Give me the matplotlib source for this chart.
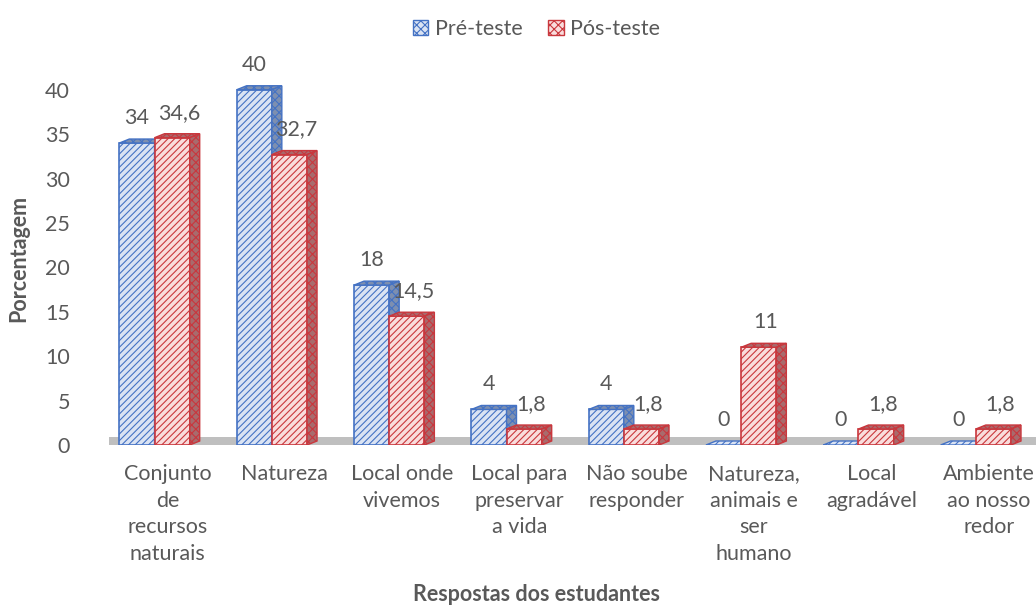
import matplotlib.pyplot as plt
from matplotlib.patches import Patch, Polygon

plt.rcParams["font.family"] = ["Lato", "DejaVu Sans"]
plt.rcParams["hatch.linewidth"] = 0.8

categorias = ["Conjunto\nde\nrecursos\nnaturais", "Natureza", "Local onde\nvivemos",
              "Local para\npreservar\na vida", "Não soube\nresponder",
              "Natureza,\nanimais e\nser\nhumano", "Local\nagradável", "Ambiente\nao nosso\nredor"]
pre_teste = [34, 40, 18, 4, 4, 0, 0, 0]
pos_teste = [34.6, 32.7, 14.5, 1.8, 1.8, 11, 1.8, 1.8]
rotulos_pre = ["34", "40", "18", "4", "4", "0", "0", "0"]
rotulos_pos = ["34,6", "32,7", "14,5", "1,8", "1,8", "11", "1,8", "1,8"]

cinza = "#595959"
azul, azul_claro, azul_lado = "#4472c4", "#dae3f3", "#7d8fb0"
verm, verm_claro, verm_lado = "#c9373d", "#f9dcdc", "#a86b6d"
fs = 15.5

fig = plt.figure(figsize=(10.36, 6.1), dpi=100)
ax = fig.add_axes([0.105, 0.2705, 0.906, 0.6115])

w = 0.30
dx, dy = 0.085, 0.45


def barra_3d(x, v, cor, claro, lado, z):
    ax.bar(x, v, width=w, color=claro, edgecolor=cor, hatch="/////", linewidth=1.2, zorder=z)
    top = [(x - w / 2, v), (x + w / 2, v), (x + w / 2 + dx, v + dy), (x - w / 2 + dx, v + dy)]
    ax.add_patch(Polygon(top, closed=True, facecolor=lado if v > 0 else claro,
                         edgecolor=cor, hatch="xxxx" if v > 0 else "/////", lw=1.0, zorder=z))
    if v > 0:
        side = [(x + w / 2, 0), (x + w / 2 + dx, dy), (x + w / 2 + dx, v + dy), (x + w / 2, v)]
        ax.add_patch(Polygon(side, closed=True, facecolor=lado, edgecolor=cor,
                             hatch="xxxx", lw=1.0, zorder=z))


# piso cinza
ax.axhspan(0, 0.9, xmin=0.0, xmax=1.0, color="#bfbfbf", zorder=0.5, lw=0)

for i in range(len(categorias)):
    xb = i - 0.26
    xr = i + 0.04
    barra_3d(xb, pre_teste[i], azul, azul_claro, azul_lado, 2)
    barra_3d(xr, pos_teste[i], verm, verm_claro, verm_lado, 3)
    ax.annotate(rotulos_pre[i], (xb, pre_teste[i]), xytext=(0, 18), textcoords="offset points",
                ha="center", va="center", fontsize=fs, color=cinza)
    ax.annotate(rotulos_pos[i], (xr + 0.06, pos_teste[i]), xytext=(0, 18), textcoords="offset points",
                ha="center", va="center", fontsize=fs, color=cinza)

ax.set_xlim(-0.5, 7.5)
ax.set_ylim(0, 42)
ax.set_yticks(range(0, 45, 5))
ax.set_xticks(range(len(categorias)))
ax.set_xticklabels(categorias, fontsize=fs, color=cinza, linespacing=1.4, va="top")
ax.tick_params(axis="y", length=0, pad=28, labelsize=fs, labelcolor=cinza)
ax.tick_params(axis="x", length=0, pad=14)
for s in ax.spines.values():
    s.set_visible(False)

ax.set_ylabel("Porcentagem", fontsize=fs, fontweight="bold", color=cinza)
ax.yaxis.set_label_coords(-0.085, 0.5)
fig.text(0.518, 0.026, "Respostas dos estudantes", ha="center", va="center",
         fontsize=fs, fontweight="bold", color=cinza)

handles = [Patch(facecolor=azul_claro, edgecolor=azul, hatch="xxxx", label="Pré-teste"),
           Patch(facecolor=verm_claro, edgecolor=verm, hatch="xxxx", label="Pós-teste")]
leg = fig.legend(handles=handles, loc="upper center", bbox_to_anchor=(0.518, 1.0), ncol=2,
                 frameon=False, fontsize=fs, handlelength=0.7, handleheight=0.7,
                 handletextpad=0.3, columnspacing=1.2)
for t in leg.get_texts():
    t.set_color(cinza)

fig.savefig("out.png", dpi=100)
